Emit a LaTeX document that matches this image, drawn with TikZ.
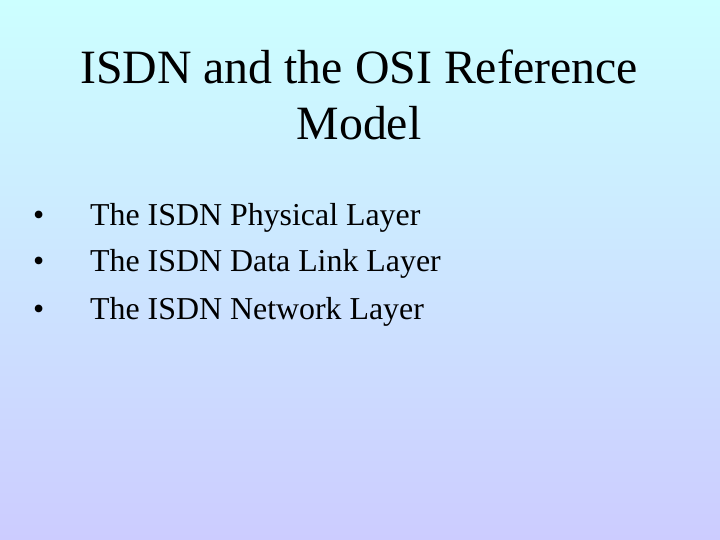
\documentclass[tikz,border=0pt]{standalone}
\usepackage{fontspec}
\setmainfont{Liberation Serif}
\definecolor{topc}{RGB}{204,255,255}
\definecolor{botc}{RGB}{204,204,255}
\begin{document}
\begin{tikzpicture}[x=1bp,y=-1bp,
  title/.style={font=\fontsize{48}{52}\selectfont,anchor=base,inner sep=0},
  item/.style={font=\fontsize{32}{36}\selectfont,anchor=base west,inner sep=0}]
\shade[top color=topc,bottom color=botc] (0,0) rectangle (720,540);
\useasboundingbox (0,0) rectangle (720,540);
\node[title] (t1) at (359,84) {ISDN and the OSI Reference};
\node[title] (t2) at (359,140) {Model};
\foreach \y/\t [count=\i] in {226/The ISDN Physical Layer,272/The ISDN Data Link Layer,319/The ISDN Network Layer}{
  \node[item] (b\i) at (33,\y) {•};
  \node[item] (i\i) at (90,\y) {\t};
}
\end{tikzpicture}
\end{document}
